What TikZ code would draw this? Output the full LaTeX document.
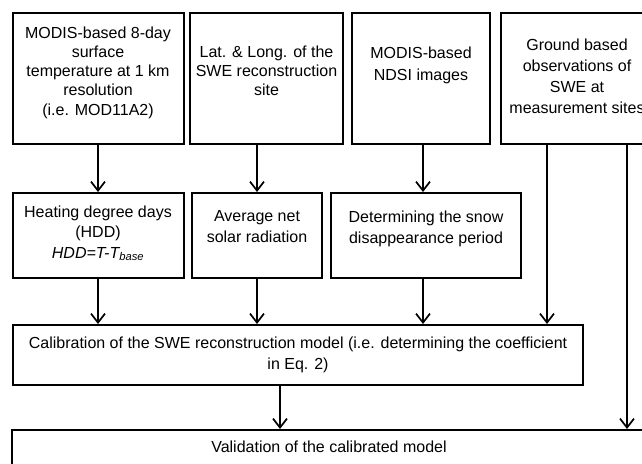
\documentclass[tikz,border=0pt]{standalone}
\usepackage{fontspec}
\setmainfont{Liberation Sans}
\usetikzlibrary{arrows.meta}
\tikzset{
  box/.style={draw=black, line width=2pt, rectangle, inner sep=0pt},
  txt/.style={anchor=north, align=center, inner sep=0pt, font=\fontsize{16}{21}\selectfont},
  arr/.style={draw=black, line width=2pt, -{Straight Barb[length=9pt,width=14pt,line width=1.7pt]}},
  ln/.style={draw=black, line width=2pt}
}
\begin{document}
\begin{tikzpicture}[x=1pt,y=-1pt]
\useasboundingbox (0,0) rectangle (642,463);
\begin{scope}
\clip (0,0) rectangle (642,463);
% row 1
\node[box, minimum width=171, minimum height=131] (b1) at (98,78.5) {};
\node[box, minimum width=153, minimum height=131] (b2) at (266.5,78.5) {};
\node[box, minimum width=138, minimum height=131] (b3) at (421,78.5) {};
\node[box, minimum width=152, minimum height=131] (b4) at (577,78.5) {};
\node[txt, font=\fontsize{16}{19.3}\selectfont] (t1) at ([yshift=-14.25pt]b1.north) {MODIS-based 8-day\\surface\\temperature at 1 km\\resolution\\(i.e. MOD11A2)};
\node[txt, font=\fontsize{16}{19}\selectfont] (t2) at ([yshift=-33.25pt]b2.north) {Lat. \& Long. of the\\SWE reconstruction\\site};
\node[txt, font=\fontsize{16}{22}\selectfont] (t3) at ([yshift=-34.25pt]b3.north) {MODIS-based\\NDSI images};
\node[txt] (t4) at ([yshift=-26.25pt]b4.north) {Ground based\\observations of\\SWE at\\measurement sites};
% row 2
\node[box, minimum width=171, minimum height=85] (r2a) at (98,235.5) {};
\node[box, minimum width=130, minimum height=85] (r2b) at (257,235.5) {};
\node[box, minimum width=190, minimum height=85] (r2c) at (426,235.5) {};
\node[txt, font=\fontsize{16}{20.5}\selectfont] (t5) at ([yshift=-13.25pt]r2a.north) {Heating degree days\\(HDD)\\\textit{HDD=T-T\textsubscript{base}}};
\node[txt] (t6) at ([yshift=-18.25pt]r2b.north) {Average net\\solar radiation};
\node[txt] (t7) at ([yshift=-18.25pt]r2c.north) {Determining the snow\\disappearance period};
% row 3
\node[box, minimum width=570, minimum height=60] (cal) at (298,355) {};
\node[txt, font=\fontsize{16}{21.5}\selectfont] (t8) at ([yshift=-12.25pt]cal.north) {Calibration of the SWE reconstruction model (i.e. determining the coefficient\\in Eq. 2)};
% row 4
\node[box, minimum width=634, minimum height=70] (val) at (329,465) {};
\node[txt] (t9) at ([yshift=-11.25pt]val.north) {Validation of the calibrated model};
% connectors
\draw[arr] (b1.south -| r2a.north) -- (r2a.north);
\draw[arr] (b2.south -| r2b.north) -- (r2b.north);
\draw[arr] ([xshift=2pt]b3.south) -- ([xshift=2pt]b3.south |- r2c.north);
\draw[arr] (r2a.south) -- (r2a.south |- cal.north);
\draw[arr] (r2b.south) -- (r2b.south |- cal.north);
\draw[arr] ([xshift=-3pt]r2c.south) -- ([xshift=-3pt]r2c.south |- cal.north);
\draw[arr] ([xshift=-30pt]b4.south) -- ([xshift=-30pt]b4.south |- cal.north);
\draw[arr] ([xshift=50pt]b4.south) -- ([xshift=50pt]b4.south |- val.north);
\draw[arr] ([xshift=-18pt]cal.south) -- ([xshift=-18pt]cal.south |- val.north);
\end{scope}
\end{tikzpicture}
\end{document}
